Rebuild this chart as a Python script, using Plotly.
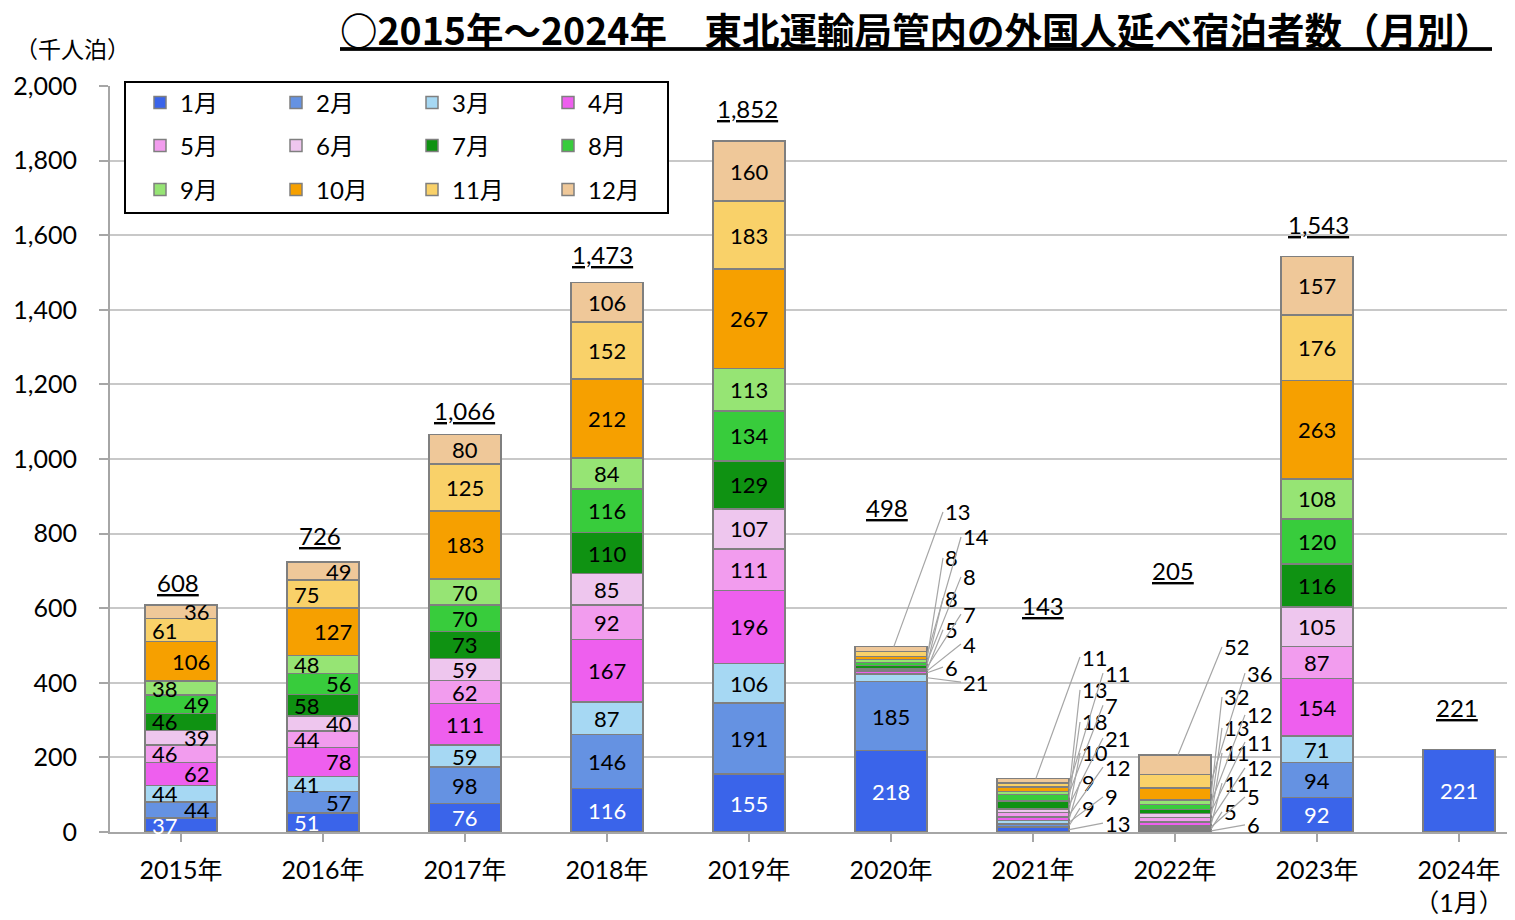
import plotly.graph_objects as go

# ---------------- data ----------------
years = ["2015年", "2016年", "2017年", "2018年", "2019年", "2020年", "2021年",
         "2022年", "2023年", "2024年<br>（1月）"]
months = ["1月", "2月", "3月", "4月", "5月", "6月", "7月", "8月", "9月", "10月", "11月", "12月"]

m01 = [37, 51, 76, 116, 155, 218, 13, 6, 92, 221]
m02 = [44, 57, 98, 146, 191, 185, 9, 5, 94, None]
m03 = [44, 41, 59, 87, 106, 21, 9, 5, 71, None]
m04 = [62, 78, 111, 167, 196, 6, 9, 11, 154, None]
m05 = [46, 44, 62, 92, 111, 4, 12, 12, 87, None]
m06 = [39, 40, 59, 85, 107, 5, 10, 11, 105, None]
m07 = [46, 58, 73, 110, 129, 7, 21, 11, 116, None]
m08 = [49, 56, 70, 116, 134, 8, 18, 13, 120, None]
m09 = [38, 48, 70, 84, 113, 8, 7, 12, 108, None]
m10 = [106, 127, 183, 212, 267, 8, 13, 32, 263, None]
m11 = [61, 75, 125, 152, 183, 14, 11, 36, 176, None]
m12 = [36, 49, 80, 106, 160, 13, 11, 52, 157, None]
totals = [608, 726, 1066, 1473, 1852, 498, 143, 205, 1543, 221]

series = [m01, m02, m03, m04, m05, m06, m07, m08, m09, m10, m11, m12]

# ---------------- styles / label placement ----------------
colors = ["#3a64ea", "#6592e2", "#a6d8f3", "#ee5fee", "#f29cee", "#eec6ee",
          "#0f9212", "#38cc3c", "#96e474", "#f6a000", "#f9d169", "#efc899"]
FONT = "Lato, 'Noto Sans CJK JP', sans-serif"
CJK = "'Noto Sans CJK JP', sans-serif"

OFF = 8                              # page body margin
W, H = 1515 - OFF, 920 - OFF
ML, MT = 110 - OFF, 86 - OFF
MR = 0
MB = H - (832 - OFF)
PW, PH = W - ML - MR, H - MT - MB
CAT_PX = 142.0
HALF = 0.255                         # half bar width (category units)

alternate_years = [0, 1]             # labels alternate left/right inside the bar
callout_years = {                    # label y-positions (data units) for callouts
    5: [None, None, 402, 442, 504, 542, 584, 627, 684, 735, 791, 858],
    6: [24, 64, 94, 134, 174, 212, 252, 295, 340, 381, 426, 469],
    7: [19, 54, 94, 131, 172, 212, 241, 279, 314, 362, 426, 496],
}
callout_cols = {5: (52, 70), 6: (47, 70), 7: (47, 70)}   # (left col, right col) px
total_label_y = [670, 794, 1131, 1547, 1941, 869, 608, 702, 1630, 335]
total_label_dx = [-3, -3, -1, -5, -2, -4, 10, -2, 1, -2]


def px_x(p):
    return (p - OFF - ML) / PW


def px_y(p):
    return (H - MB - (p - OFF)) / PH


fig = go.Figure()
legend_ids = ["legend", "legend2", "legend3"]
for i, (name, vals) in enumerate(zip(months, series)):
    fig.add_trace(go.Bar(
        x=list(range(len(years))), y=vals, name=name,
        marker=dict(color=colors[i], line=dict(color="#7f7f7f", width=1.5)),
        legend=legend_ids[i // 4],
        hovertemplate=name + ": %{y}<extra></extra>",
    ))

annotations = []
for yi in range(len(years)):
    cum = 0
    for mi, vals in enumerate(series):
        v = vals[yi]
        if v is None:
            continue
        mid = cum + v / 2
        cum += v
        fcol = "white" if mi == 0 else "black"
        if yi in callout_years and callout_years[yi][mi] is not None:
            ly = callout_years[yi][mi]
            lcol, rcol = callout_cols[yi]
            col_dx = rcol if mi % 2 == 0 else lcol
            if mi == 11:
                px, py = yi + 0.02, cum
            else:
                px, py = yi + HALF, mid
            annotations.append(dict(
                x=px, y=py, xref="x", yref="y", axref="x", ayref="y",
                ax=yi + col_dx / CAT_PX, ay=ly, text=str(v),
                showarrow=True, arrowhead=0, arrowwidth=1.2, arrowcolor="#a6a6a6",
                standoff=0, startstandoff=0, xanchor="left",
                font=dict(family=FONT, size=22, color="black")))
        elif yi in alternate_years:
            left = (mi % 2 == 0)
            annotations.append(dict(
                x=yi + (-0.215 if left else 0.215), y=mid, xref="x", yref="y",
                text=str(v), showarrow=False, xanchor="left" if left else "right",
                font=dict(family=FONT, size=22, color=fcol)))
        else:
            annotations.append(dict(
                x=yi, y=mid, xref="x", yref="y", text=str(v), showarrow=False,
                font=dict(family=FONT, size=22, color=fcol)))
    annotations.append(dict(
        x=yi, y=total_label_y[yi], xref="x", yref="y", xshift=total_label_dx[yi],
        text=f"{totals[yi]:,}", showarrow=False,
        font=dict(family=FONT, size=24, color="black", lineposition="under")))

# unit label
annotations.append(dict(
    x=px_x(72), y=px_y(48), xref="paper", yref="paper",
    xanchor="center", yanchor="middle",
    text="（千人泊）", showarrow=False,
    font=dict(family=CJK, size=23, color="black")))

legend_rows = [103, 146, 190]
legend_common = dict(orientation="h", xanchor="left", yanchor="middle",
                     entrywidth=91, entrywidthmode="pixels",
                     bgcolor="rgba(0,0,0,0)", borderwidth=0,
                     font=dict(family=FONT, size=24, color="black"),
                     traceorder="normal", itemwidth=30)

fig.update_layout(
    width=W, height=H,
    margin=dict(l=ML, r=MR, t=MT, b=MB),
    paper_bgcolor="white", plot_bgcolor="white",
    barmode="stack", bargap=0.49,
    title=dict(
        text="○2015年～2024年　東北運輸局管内の外国人延べ宿泊者数（月別）",
        x=(916 - OFF) / W, xanchor="center", y=1 - (32 - OFF) / H, yanchor="middle",
        xref="container", yref="container",
        font=dict(family=CJK, size=37.5, color="black", weight="bold",
                  lineposition="under")),
    xaxis=dict(
        tickmode="array", tickvals=list(range(len(years))), ticktext=years,
        range=[-0.5, -0.5 + PW / CAT_PX],
        showline=True, linecolor="#a6a6a6", linewidth=2,
        ticks="outside", ticklen=8, tickwidth=2, tickcolor="#a6a6a6",
        showgrid=False, zeroline=False,
        tickfont=dict(family=FONT, size=25, color="black"),
        ticklabelstandoff=7,
    ),
    yaxis=dict(
        range=[0, 2000], dtick=200, tickformat=",d",
        showline=True, linecolor="#a6a6a6", linewidth=2,
        ticks="outside", ticklen=9, tickwidth=2, tickcolor="#a6a6a6",
        showgrid=True, gridcolor="#c8c8c8", gridwidth=1.5, zeroline=False,
        tickfont=dict(family=FONT, size=25, color="black"),
        ticklabelstandoff=17,
    ),
    legend=dict(x=px_x(140), y=px_y(legend_rows[0]), **legend_common),
    legend2=dict(x=px_x(140), y=px_y(legend_rows[1]), **legend_common),
    legend3=dict(x=px_x(140), y=px_y(legend_rows[2]), **legend_common),
    shapes=[dict(type="rect", xref="paper", yref="paper",
                 x0=px_x(125), x1=px_x(668), y0=px_y(213), y1=px_y(82),
                 line=dict(color="black", width=2), fillcolor="white",
                 layer="above")],
    annotations=annotations,
    showlegend=True,
)

fig.write_html("out.html")
